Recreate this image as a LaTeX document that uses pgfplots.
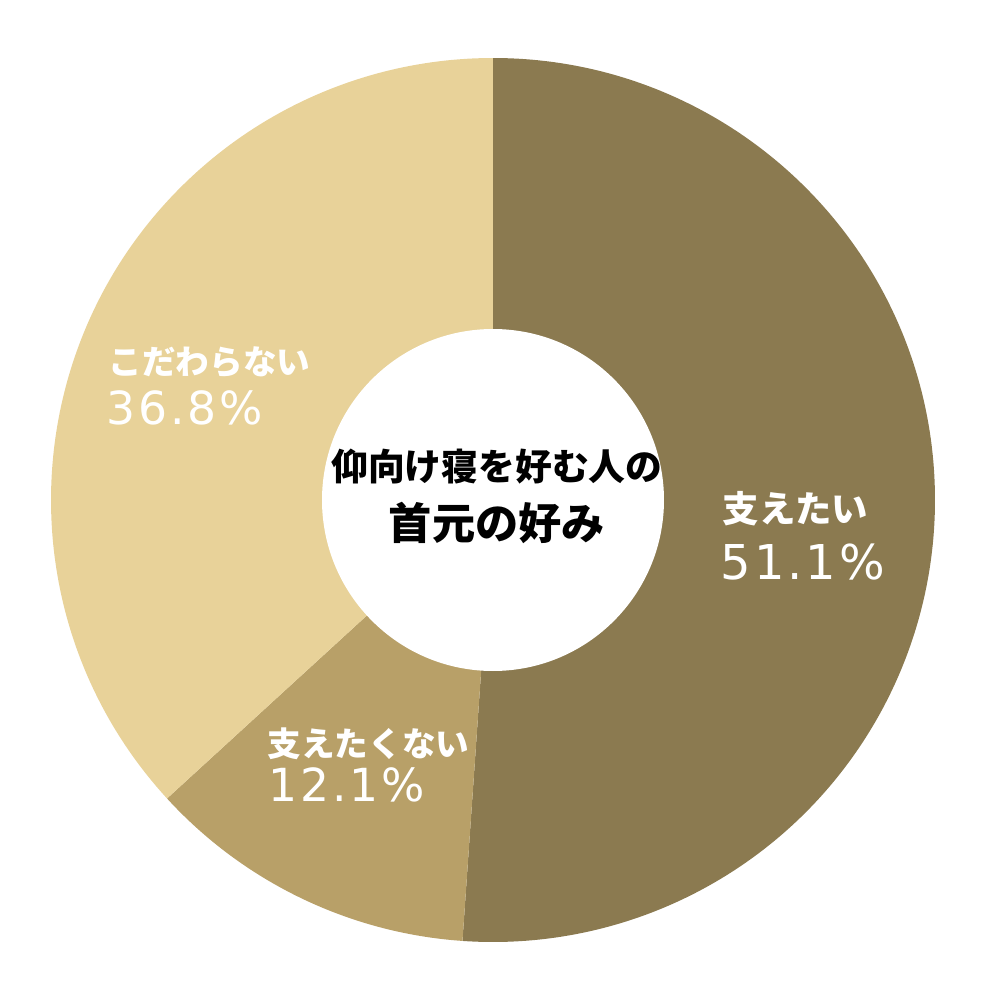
\documentclass[border=0pt]{standalone}
\usepackage{pgfplots}
\pgfplotsset{compat=1.18}
\usepackage{pgfplotstable}
\usepackage{fontspec}
\setmainfont{Noto Sans CJK JP}
\newfontfamily\numfont[LetterSpace=6]{DejaVu Sans}

\definecolor{cA}{RGB}{139,122,80}
\definecolor{cB}{RGB}{184,160,104}
\definecolor{cC}{RGB}{232,210,153}

\pgfplotstableread{
label value
support 51.1
nosupport 12.1
nocare 36.8
}\datatable

\pgfplotstablegetelem{0}{value}\of\datatable \let\va\pgfplotsretval
\pgfplotstablegetelem{1}{value}\of\datatable \let\vb\pgfplotsretval
\pgfplotstablegetelem{2}{value}\of\datatable \let\vc\pgfplotsretval
\pgfmathsetmacro\aA{90}
\pgfmathsetmacro\aB{\aA-3.6*\va}
\pgfmathsetmacro\aC{\aB-3.6*\vb}
\pgfmathsetmacro\aD{\aC-3.6*\vc}

% 1 px of the reference = 0.25pt
\def\Rout{110.5pt}
\def\Rin{42.75pt}

\begin{document}
\begin{tikzpicture}
\begin{axis}[
  width=250pt, height=250pt, scale only axis,
  xmin=0, xmax=1000, ymin=0, ymax=1000,
  hide axis, clip=false
]
\path (axis cs:0,0) rectangle (axis cs:1000,1000);
\fill[cA] (axis cs:493,500) -- ++(\aA:\Rout) arc[start angle=\aA, end angle=\aB, radius=\Rout] -- cycle;
\fill[cB] (axis cs:493,500) -- ++(\aB:\Rout) arc[start angle=\aB, end angle=\aC, radius=\Rout] -- cycle;
\fill[cC] (axis cs:493,500) -- ++(\aC:\Rout) arc[start angle=\aC, end angle=\aD, radius=\Rout] -- cycle;
\fill[white] (axis cs:493,500) circle[radius=\Rin];

\node[font=\bfseries\fontsize{9.2}{11}\selectfont] at (axis cs:497,533) {仰向け寝を好む人の};
\node[font=\bfseries\fontsize{10.8}{13}\selectfont] at (axis cs:497,477) {首元の好み};

\begin{scope}[every node/.style={text=white, anchor=west, inner sep=0pt}]
\node[font=\bfseries\fontsize{9.1}{11}\selectfont] at (axis cs:722,491) {支えたい};
\node[font=\numfont\fontsize{12}{14}\selectfont] at (axis cs:720,438) {51.1\%};
\node[font=\bfseries\fontsize{8.4}{10}\selectfont] at (axis cs:108,638) {こだわらない};
\node[font=\numfont\fontsize{11.4}{14}\selectfont] at (axis cs:106,592) {36.8\%};
\node[font=\bfseries\fontsize{8.4}{10}\selectfont] at (axis cs:267,256) {支えたくない};
\node[font=\numfont\fontsize{11.4}{14}\selectfont] at (axis cs:268,215) {12.1\%};
\end{scope}
\end{axis}
\end{tikzpicture}
\end{document}
